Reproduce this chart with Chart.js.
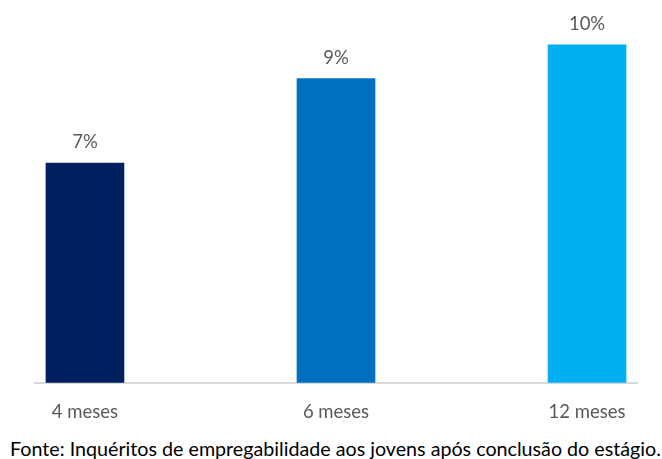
<!DOCTYPE html>
<html>
<head>
<meta charset="utf-8">
<script src="https://cdn.jsdelivr.net/npm/chart.js@4"></script>
<style>
  body { margin: 0; background: #fff; }
  #wrap { position: relative; width: 662px; height: 459px; }
  #chartBox { position: absolute; left: 0; top: 0; width: 662px; height: 433px; }
  #fonte { position: absolute; left: 10px; top: 437px; font-family: Lato, sans-serif; font-size: 19.7px; color: #000; white-space: nowrap; }
</style>
</head>
<body>
<div id="wrap">
  <div id="chartBox"><canvas id="empChart"></canvas></div>
  <div id="fonte">Fonte: Inquéritos de empregabilidade aos jovens após conclusão do estágio.</div>
</div>
<script>
// categories and values (percent)
const categories = ["4 meses", "6 meses", "12 meses"];
const values = [6.5, 9.0, 10.0];
const valueLabels = ["7%", "9%", "10%"];
const barColors = ["#002060", "#0070C0", "#00B0F0"];

// draws the % label above each bar
const barLabels = {
    id: 'barLabels',
    afterDatasetsDraw(chart) {
        const ctx = chart.ctx;
        const meta = chart.getDatasetMeta(0);
        ctx.save();
        ctx.font = '18.5px Lato, sans-serif';
        ctx.fillStyle = '#595959';
        ctx.textAlign = 'center';
        ctx.textBaseline = 'alphabetic';
        meta.data.forEach((bar, i) => {
            ctx.fillText(valueLabels[i], bar.x, bar.y - 15);
        });
        ctx.restore();
    }
};

const ctx = document.getElementById('empChart').getContext('2d');
new Chart(ctx, {
    type: 'bar',
    data: {
        datasets: [{
            data: values.map((v, i) => ({ x: i, y: v })),
            backgroundColor: barColors,
            borderWidth: 0,
            barThickness: 78
        }]
    },
    options: {
        responsive: true,
        maintainAspectRatio: false,
        animation: false,
        layout: { padding: { top: 11, left: 35, right: 25, bottom: 0 } },
        plugins: {
            legend: { display: false },
            tooltip: { enabled: false }
        },
        scales: {
            x: {
                type: 'linear',
                offset: false,
                min: -0.199,
                max: 2.199,
                grid: { display: false, offset: false },
                border: { display: true, color: '#D9D9D9', width: 2 },
                ticks: {
                    stepSize: 1,
                    includeBounds: false,
                    maxRotation: 0,
                    padding: 10,
                    color: '#595959',
                    font: { family: 'Lato', size: 18.5 },
                    callback: (v) => Number.isInteger(v) ? categories[v] : ''
                }
            },
            y: {
                display: false,
                min: 0,
                max: 11
            }
        }
    },
    plugins: [barLabels]
});
</script>
</body>
</html>
